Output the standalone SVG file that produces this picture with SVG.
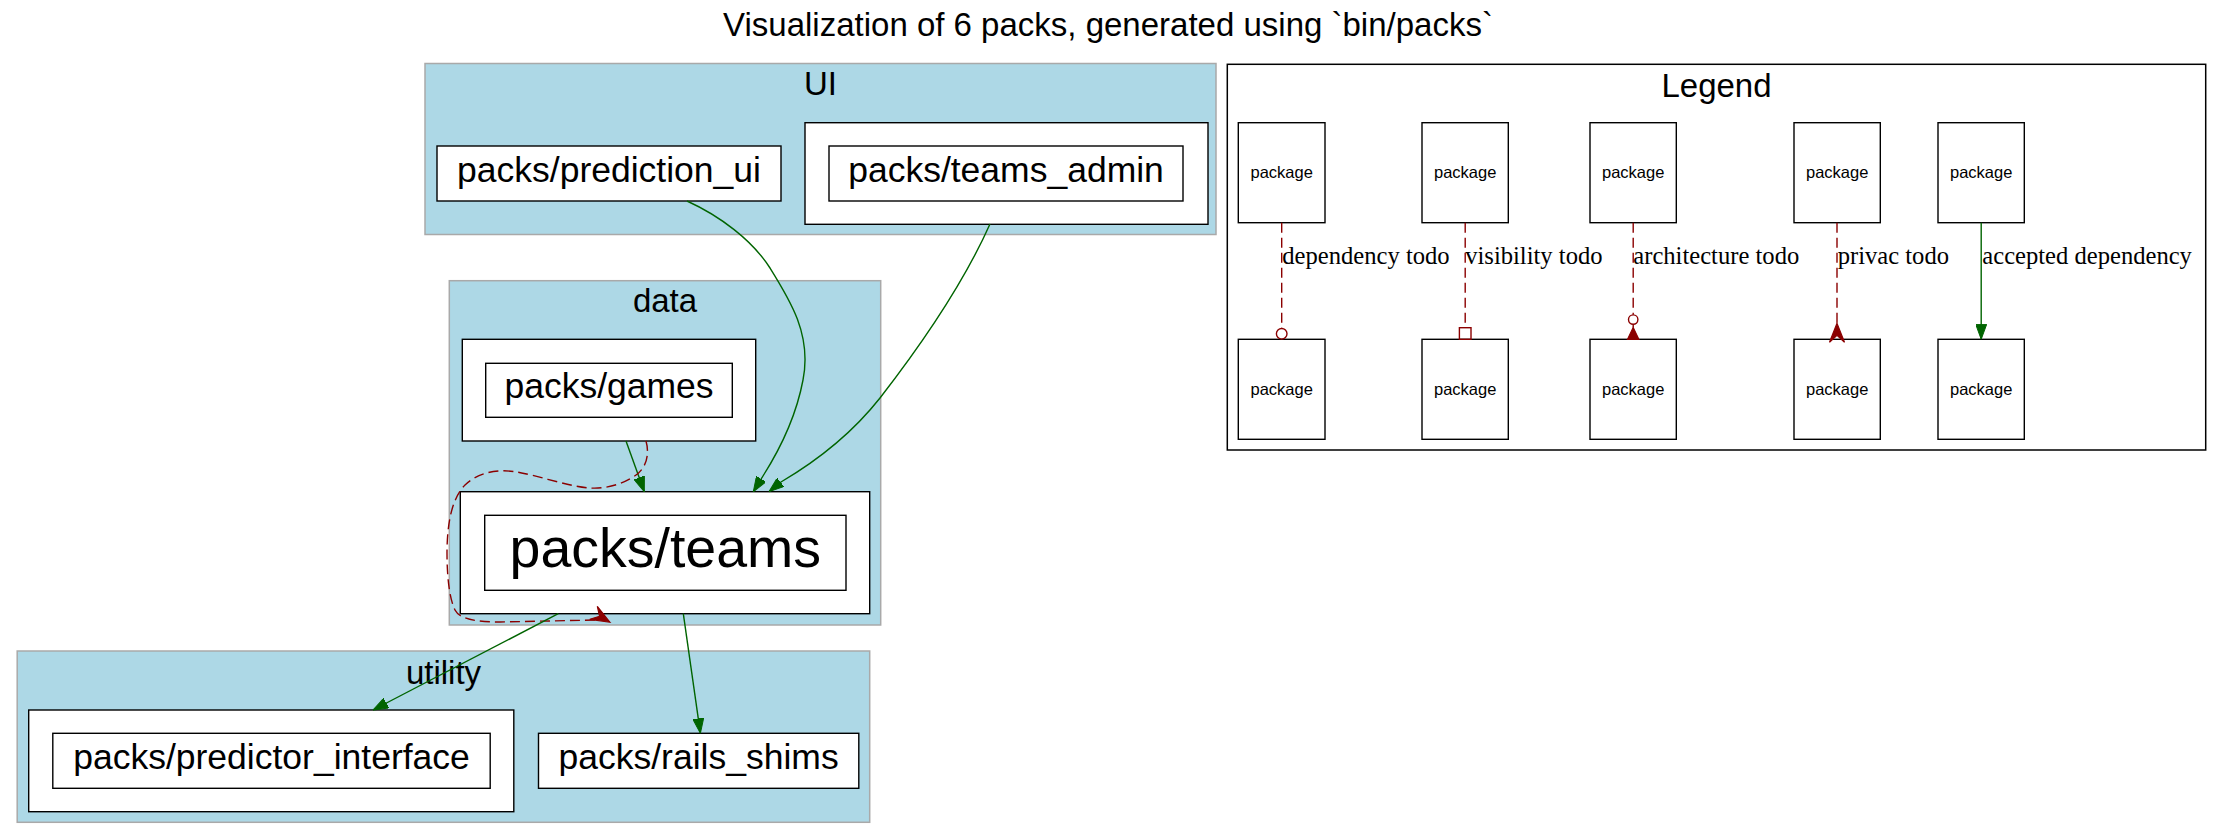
<svg xmlns="http://www.w3.org/2000/svg" xmlns:xlink="http://www.w3.org/1999/xlink" width="2224" height="839" viewBox="0 0 2224 839">
  <style>
    .cluster { fill: #add8e6; stroke: #a9a9a9; stroke-width: 1.5; }
    .legend-box { fill: #ffffff; stroke: #000000; stroke-width: 1.5; }
    .node { fill: #ffffff; stroke: #000000; stroke-width: 1.4; }
    .title { font-family: "Liberation Sans", Arial, sans-serif; font-size: 33px; fill: #000; text-anchor: middle; }
    .label { font-family: "Liberation Sans", Arial, sans-serif; font-size: 35.5px; fill: #000; text-anchor: middle; }
    .label-big { font-family: "Liberation Sans", Arial, sans-serif; font-size: 55.5px; fill: #000; text-anchor: middle; }
    .pkg { font-family: "Liberation Sans", Arial, sans-serif; font-size: 16.5px; fill: #000; text-anchor: middle; }
    .edge-label { font-family: "Liberation Serif", "Times New Roman", serif; font-size: 24.6px; fill: #000; }
    .ok { fill: none; stroke: #006400; stroke-width: 1.4; }
    .todo { fill: none; stroke: #8b0000; stroke-width: 1.4; stroke-dasharray: 10,5; }
    .todo-head { fill: none; stroke: #8b0000; stroke-width: 1.4; }
    .todo-fill { fill: #8b0000; stroke: #8b0000; stroke-width: 1.2; }
  </style>
  <defs>
    <marker id="arrow-ok" markerUnits="userSpaceOnUse" viewBox="0 0 15 11" refX="15" refY="5.5" markerWidth="15" markerHeight="11" orient="auto">
      <path d="M0,0 L15,5.5 L0,11 z" fill="#006400" stroke="#006400" stroke-width="1"/>
    </marker>
    <path id="vee" d="M0,0 L-19,-7.5 L-12,0 L-19,7.5 z"/>
  </defs>

  <rect width="2224" height="839" fill="#ffffff"/>

  <text class="title" x="1108" y="36">Visualization of 6 packs, generated using `bin/packs`</text>

  <!-- layer: UI -->
  <g id="cluster-ui">
    <rect class="cluster" x="425" y="63.5" width="791" height="171"/>
    <text class="title" x="820.5" y="95">UI</text>
  </g>
  <g id="node-prediction_ui">
    <rect class="node" x="437" y="146" width="344" height="55"/>
    <text class="label" x="609" y="182">packs/prediction_ui</text>
  </g>
  <g id="node-teams_admin">
    <rect class="node" x="805" y="122.7" width="403" height="101.6"/>
    <rect class="node" x="829" y="146" width="354" height="55"/>
    <text class="label" x="1006" y="182">packs/teams_admin</text>
  </g>

  <!-- layer: data -->
  <g id="cluster-data">
    <rect class="cluster" x="449.3" y="280.7" width="431.4" height="344.3"/>
    <text class="title" x="665" y="311.5">data</text>
  </g>
  <g id="node-games">
    <rect class="node" x="462.3" y="339.3" width="293.4" height="101.7"/>
    <rect class="node" x="485.7" y="363.3" width="246.6" height="54"/>
    <text class="label" x="609" y="398">packs/games</text>
  </g>
  <g id="node-teams">
    <rect class="node" x="460.3" y="491.7" width="409.4" height="122"/>
    <rect class="node" x="484.7" y="515.3" width="361.3" height="75"/>
    <text class="label-big" x="665.3" y="567">packs/teams</text>
  </g>

  <!-- layer: utility -->
  <g id="cluster-utility">
    <rect class="cluster" x="17.2" y="651" width="852.5" height="171.3"/>
    <text class="title" x="443.5" y="683.5">utility</text>
  </g>
  <g id="node-predictor_interface">
    <rect class="node" x="28.7" y="710" width="485.1" height="101.7"/>
    <rect class="node" x="52.8" y="733.3" width="437.4" height="55"/>
    <text class="label" x="271.5" y="769">packs/predictor_interface</text>
  </g>
  <g id="node-rails_shims">
    <rect class="node" x="538.5" y="733.3" width="320.3" height="55"/>
    <text class="label" x="698.6" y="769">packs/rails_shims</text>
  </g>

  <!-- legend -->
  <g id="legend">
    <rect class="legend-box" x="1227.3" y="64.3" width="978.4" height="385.7"/>
    <text class="title" x="1716.5" y="96.5">Legend</text>
  </g>
  <g id="legend-nodes">
    <g id="legend-dep-from"><rect class="node" x="1238.3" y="122.7" width="86.7" height="100"/><text class="pkg" x="1281.7" y="178">package</text></g>
    <g id="legend-dep-to"><rect class="node" x="1238.3" y="339.3" width="86.7" height="100"/><text class="pkg" x="1281.7" y="394.5">package</text></g>
    <g id="legend-vis-from"><rect class="node" x="1422" y="122.7" width="86.3" height="100"/><text class="pkg" x="1465.2" y="178">package</text></g>
    <g id="legend-vis-to"><rect class="node" x="1422" y="339.3" width="86.3" height="100"/><text class="pkg" x="1465.2" y="394.5">package</text></g>
    <g id="legend-arch-from"><rect class="node" x="1590" y="122.7" width="86.3" height="100"/><text class="pkg" x="1633.2" y="178">package</text></g>
    <g id="legend-arch-to"><rect class="node" x="1590" y="339.3" width="86.3" height="100"/><text class="pkg" x="1633.2" y="394.5">package</text></g>
    <g id="legend-priv-from"><rect class="node" x="1794" y="122.7" width="86.3" height="100"/><text class="pkg" x="1837.2" y="178">package</text></g>
    <g id="legend-priv-to"><rect class="node" x="1794" y="339.3" width="86.3" height="100"/><text class="pkg" x="1837.2" y="394.5">package</text></g>
    <g id="legend-ok-from"><rect class="node" x="1938" y="122.7" width="86.3" height="100"/><text class="pkg" x="1981.2" y="178">package</text></g>
    <g id="legend-ok-to"><rect class="node" x="1938" y="339.3" width="86.3" height="100"/><text class="pkg" x="1981.2" y="394.5">package</text></g>
  </g>

  <!-- connectors -->
  <g id="edges">
    <!-- prediction_ui -> teams -->
    <path class="ok" marker-end="url(#arrow-ok)" d="M687,201 C720,216 752,240 770,268 C790,300 812,335 803,380 C797,412 782,446 763,476 L753.3,491.7"/>
    <!-- teams_admin -> teams -->
    <path class="ok" marker-end="url(#arrow-ok)" d="M990,224 C965,280 925,340 880,398 C850,436 815,462 781,482 L769,491.7"/>
    <!-- games -> teams -->
    <path class="ok" marker-end="url(#arrow-ok)" d="M626,441 L644.3,491.7"/>
    <!-- games -> teams (todo) -->
    <path class="todo" d="M646,441 C650,455 646,470 633,477 C620,485 605,489 590,488 C570,487 540,476 517,472 C500,469 480,471 465,485 C450,500 447,530 447,553 C447,580 450,600 455,610 C460,620 480,622 500,622 L596,620"/>
    <use xlink:href="#vee" class="todo-fill" transform="translate(610,622.3) rotate(30)"/>
    <!-- teams -> predictor_interface -->
    <path class="ok" marker-end="url(#arrow-ok)" d="M558.3,613.7 L373,710"/>
    <!-- teams -> rails_shims -->
    <path class="ok" marker-end="url(#arrow-ok)" d="M683.3,613.7 L700.4,733.3"/>

    <!-- legend: dependency todo -->
    <path class="todo" d="M1281.7,222.7 L1281.7,328.4"/>
    <circle class="todo-head" cx="1281.7" cy="333.8" r="5.3" fill="#ffffff"/>
    <text class="edge-label" x="1282.3" y="264">dependency todo</text>
    <!-- legend: visibility todo -->
    <path class="todo" d="M1465.2,222.7 L1465.2,327.7"/>
    <rect class="todo-head" x="1459.4" y="327.7" width="11.6" height="11.6" fill="#ffffff"/>
    <text class="edge-label" x="1465.2" y="264">visibility todo</text>
    <!-- legend: architecture todo -->
    <path class="todo" d="M1633.2,222.7 L1633.2,314.8"/>
    <path class="todo-head" d="M1633.2,324.3 L1633.2,327.5"/>
    <circle class="todo-head" cx="1633.2" cy="319.6" r="4.7" fill="#ffffff"/>
    <path class="todo-fill" d="M1633.2,327.5 L1638.9,339.3 L1627.5,339.3 z"/>
    <text class="edge-label" x="1633.3" y="264">architecture todo</text>
    <!-- legend: privacy todo -->
    <path class="todo" d="M1837,222.7 L1837,332"/>
    <use xlink:href="#vee" class="todo-fill" transform="translate(1837,323.3) rotate(-90)"/>
    <text class="edge-label" x="1837.7" y="264">privac todo</text>
    <!-- legend: accepted dependency -->
    <path class="ok" marker-end="url(#arrow-ok)" d="M1981.2,222.7 L1981.2,339.3"/>
    <text class="edge-label" x="1982.3" y="264">accepted dependency</text>
  </g>
</svg>
